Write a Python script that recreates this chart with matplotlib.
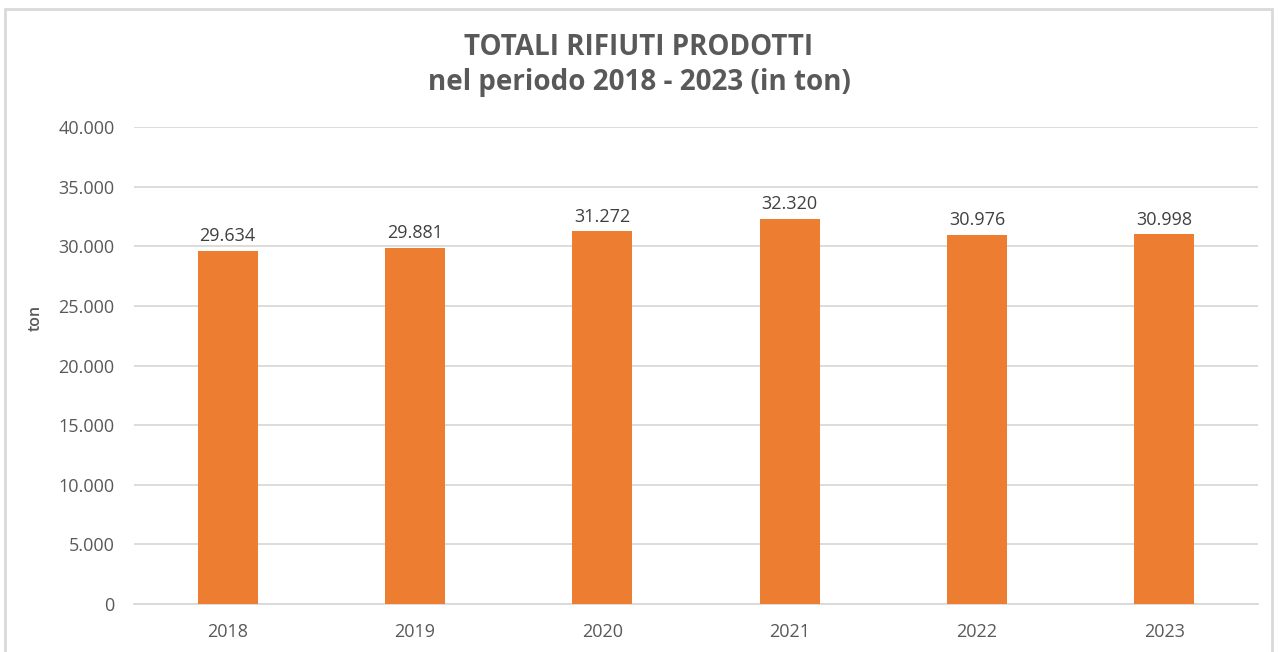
import matplotlib.pyplot as plt
from matplotlib.patches import Rectangle
from matplotlib.ticker import FuncFormatter

# values
years = ["2018", "2019", "2020", "2021", "2022", "2023"]
totals = [29634, 29881, 31272, 32320, 30976, 30998]
y_ticks = [0, 5000, 10000, 15000, 20000, 25000, 30000, 35000, 40000]

bar_colour = "#ED7D31"
text_colour = "#595959"
grid_colour = "#D9D9D9"

plt.rcParams["font.family"] = ["Open Sans", "DejaVu Sans"]


def dotted_thousands(v, pos=None):
    return "{:,.0f}".format(v).replace(",", ".")


fig = plt.figure(figsize=(12.78, 6.52), dpi=100)
ax = fig.add_axes([0.1049, 0.0736, 0.8795, 0.7316])

# light grey frame round the whole chart
fig.patches.append(
    Rectangle((5 / 1278, -0.05), 1267 / 1278, 1 - 9 / 652 + 0.05,
              transform=fig.transFigure, fill=False,
              edgecolor=grid_colour, linewidth=2)
)

x = range(len(years))
bars = ax.bar(x, totals, width=0.32, color=bar_colour, zorder=3)

for xi, v in zip(x, totals):
    ax.annotate(dotted_thousands(v), (xi, v), xytext=(0, 4),
                textcoords="offset points", ha="center", va="bottom",
                fontsize=13, color="#404040")

ax.set_xlim(-0.5, len(years) - 0.5)
ax.set_ylim(0, 40000)
ax.set_yticks(y_ticks)
ax.yaxis.set_major_formatter(FuncFormatter(dotted_thousands))
ax.set_xticks(list(x))
ax.set_xticklabels(years)
ax.tick_params(axis="both", length=0, labelsize=13, colors=text_colour)
ax.tick_params(axis="y", pad=14)
ax.tick_params(axis="x", pad=14)
ax.grid(axis="y", color=grid_colour, linewidth=1.3, zorder=0)
for side in ["top", "right", "left"]:
    ax.spines[side].set_visible(False)
ax.spines["bottom"].set_color(grid_colour)
ax.spines["bottom"].set_linewidth(1.3)

ax.set_ylabel("ton", fontsize=11.5, fontweight="semibold", color=text_colour)
ax.yaxis.set_label_coords(-0.08, 0.60)

fig.text(0.5, 0.90, "TOTALI RIFIUTI PRODOTTI\nnel periodo 2018 - 2023 (in ton)",
         ha="center", va="center", fontsize=20, fontweight="bold",
         color=text_colour, linespacing=1.25)

fig.savefig("out.png", dpi=100)
